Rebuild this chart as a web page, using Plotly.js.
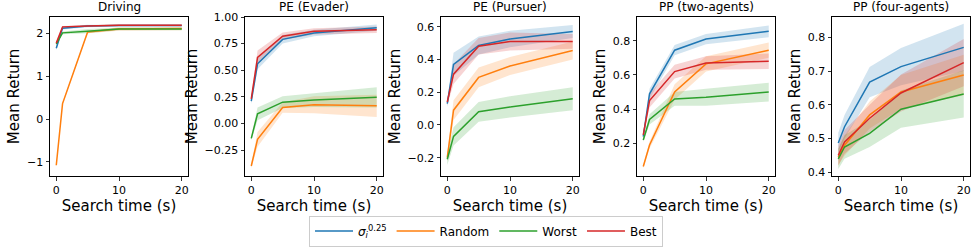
<!DOCTYPE html>
<html><head><meta charset="utf-8">
<script src="https://cdn.plot.ly/plotly-3.0.1.min.js"></script>
<style>html,body{margin:0;padding:0;background:#fff}#chart{width:972px;height:252px}</style>
</head><body><div id="chart"></div>
<script>
const searchTime = [0, 1, 5, 10, 20];
const seriesNames = ['<i>σ</i><sub><i>i</i></sub><sup>0.25</sup>', 'Random', 'Worst', 'Best'];
const panelTitles = ['Driving', 'PE (Evader)', 'PE (Pursuer)', 'PP (two-agents)', 'PP (four-agents)'];

// Driving
const drivingBlue = [1.65, 2.12, 2.17, 2.18, 2.18];
const drivingBlueErr = [0.04, 0.03, 0.03, 0.02, 0.02];
const drivingOrange = [-1.08, 0.36, 2.03, 2.10, 2.11];
const drivingOrangeErr = [0.02, 0.03, 0.03, 0.04, 0.04];
const drivingGreen = [1.75, 2.01, 2.05, 2.10, 2.10];
const drivingGreenErr = [0.03, 0.03, 0.05, 0.03, 0.03];
const drivingRed = [1.77, 2.15, 2.17, 2.19, 2.19];
const drivingRedErr = [0.03, 0.02, 0.02, 0.02, 0.02];

// PE (Evader)
const evaderBlue = [0.21, 0.56, 0.79, 0.85, 0.90];
const evaderBlueErr = [0.03, 0.05, 0.04, 0.03, 0.03];
const evaderOrange = [-0.40, -0.15, 0.15, 0.175, 0.165];
const evaderOrangeErr = [0.02, 0.07, 0.05, 0.08, 0.105];
const evaderGreen = [-0.14, 0.09, 0.20, 0.22, 0.245];
const evaderGreenErr = [0.02, 0.06, 0.055, 0.065, 0.095];
const evaderRed = [0.23, 0.62, 0.82, 0.865, 0.88];
const evaderRedErr = [0.03, 0.065, 0.035, 0.03, 0.03];

// PE (Pursuer)
const pursuerBlue = [0.13, 0.37, 0.485, 0.525, 0.57];
const pursuerBlueErr = [0.02, 0.07, 0.055, 0.05, 0.04];
const pursuerOrange = [-0.20, 0.09, 0.29, 0.36, 0.455];
const pursuerOrangeErr = [0.025, 0.06, 0.06, 0.055, 0.055];
const pursuerGreen = [-0.21, -0.07, 0.08, 0.11, 0.16];
const pursuerGreenErr = [0.035, 0.055, 0.06, 0.065, 0.07];
const pursuerRed = [0.14, 0.31, 0.48, 0.51, 0.51];
const pursuerRedErr = [0.02, 0.06, 0.05, 0.055, 0.045];

// PP (two-agents)
const twoBlue = [0.24, 0.49, 0.745, 0.81, 0.855];
const twoBlueErr = [0.02, 0.03, 0.03, 0.03, 0.035];
const twoOrange = [0.065, 0.19, 0.50, 0.665, 0.745];
const twoOrangeErr = [0.01, 0.02, 0.045, 0.045, 0.045];
const twoGreen = [0.22, 0.34, 0.46, 0.47, 0.50];
const twoGreenErr = [0.01, 0.03, 0.04, 0.05, 0.055];
const twoRed = [0.25, 0.45, 0.62, 0.67, 0.68];
const twoRedErr = [0.015, 0.04, 0.04, 0.04, 0.045];

// PP (four-agents)
const fourBlue = [0.487, 0.535, 0.667, 0.713, 0.77];
const fourBlueErr = [0.03, 0.035, 0.045, 0.055, 0.07];
const fourOrange = [0.445, 0.48, 0.57, 0.638, 0.688];
const fourOrangeErr = [0.025, 0.03, 0.04, 0.05, 0.06];
const fourGreen = [0.44, 0.475, 0.515, 0.587, 0.632];
const fourGreenErr = [0.03, 0.035, 0.04, 0.055, 0.07];
const fourRed = [0.45, 0.49, 0.56, 0.635, 0.725];
const fourRedErr = [0.03, 0.035, 0.04, 0.055, 0.07];

const panels = [
  [[drivingBlue, drivingBlueErr], [drivingOrange, drivingOrangeErr], [drivingGreen, drivingGreenErr], [drivingRed, drivingRedErr]],
  [[evaderBlue, evaderBlueErr], [evaderOrange, evaderOrangeErr], [evaderGreen, evaderGreenErr], [evaderRed, evaderRedErr]],
  [[pursuerBlue, pursuerBlueErr], [pursuerOrange, pursuerOrangeErr], [pursuerGreen, pursuerGreenErr], [pursuerRed, pursuerRedErr]],
  [[twoBlue, twoBlueErr], [twoOrange, twoOrangeErr], [twoGreen, twoGreenErr], [twoRed, twoRedErr]],
  [[fourBlue, fourBlueErr], [fourOrange, fourOrangeErr], [fourGreen, fourGreenErr], [fourRed, fourRedErr]]
];

const colors = ['#1f77b4', '#ff7f0e', '#2ca02c', '#d62728'];
const fills = ['rgba(31,119,180,0.2)', 'rgba(255,127,14,0.2)', 'rgba(44,160,44,0.2)', 'rgba(214,39,40,0.2)'];
const yRanges = [[-1.33, 2.38], [-0.494, 1.0], [-0.312, 0.659], [0.009, 0.939], [0.389, 0.86]];
const yDticks = [1, 0.25, 0.2, 0.2, 0.1];
const yFormats = ['d', '.2f', '.1f', '.1f', '.1f'];
const xLefts = [50, 245, 441, 637, 832];
const plotW = 138;
const W = 972, H = 252;
const yTop = 17, yBot = 176;

const traces = [];
const layout = {
  width: W, height: H,
  margin: {l: 0, r: 0, t: 0, b: 0},
  paper_bgcolor: '#fff', plot_bgcolor: '#fff',
  font: {family: 'DejaVu Sans', size: 11, color: '#000'},
  showlegend: true,
  legend: {
    orientation: 'h', x: 486 / W, xanchor: 'center', y: 1 - 231 / H, yanchor: 'middle',
    bordercolor: '#cccccc', borderwidth: 1, font: {size: 12},
    traceorder: 'normal', itemwidth: 38
  },
  annotations: []
};

panels.forEach((panel, p) => {
  const xa = p === 0 ? 'x' : 'x' + (p + 1);
  const ya = p === 0 ? 'y' : 'y' + (p + 1);
  panel.forEach((s, k) => {
    const mean = s[0], err = s[1];
    const upper = mean.map((v, i) => v + err[i]);
    const lower = mean.map((v, i) => v - err[i]);
    traces.push({
      x: searchTime.concat(searchTime.slice().reverse()),
      y: upper.concat(lower.slice().reverse()),
      xaxis: xa, yaxis: ya, type: 'scatter', mode: 'lines',
      fill: 'toself', fillcolor: fills[k], line: {width: 0, color: fills[k]},
      hoverinfo: 'skip', showlegend: false
    });
  });
  panel.forEach((s, k) => {
    traces.push({
      x: searchTime, y: s[0], xaxis: xa, yaxis: ya, type: 'scatter', mode: 'lines',
      line: {color: colors[k], width: 1.5}, name: seriesNames[k],
      showlegend: p === 0, legendgroup: 's' + k
    });
  });
  const xKey = p === 0 ? 'xaxis' : 'xaxis' + (p + 1);
  const yKey = p === 0 ? 'yaxis' : 'yaxis' + (p + 1);
  const axCommon = {
    showline: true, mirror: true, linecolor: '#000', linewidth: 1,
    ticks: 'outside', ticklen: 3.5, tickwidth: 0.8, tickcolor: '#000',
    showgrid: false, zeroline: false, automargin: false,
    tickfont: {size: 11, color: '#000'}
  };
  layout[xKey] = Object.assign({}, axCommon, {
    domain: [xLefts[p] / W, (xLefts[p] + plotW) / W],
    range: [-1, 21], tickvals: [0, 10, 20], anchor: ya,
    title: {text: 'Search time (s)', font: {size: 15}, standoff: 0}
  });
  layout[yKey] = Object.assign({}, axCommon, {
    domain: [1 - yBot / H, 1 - yTop / H],
    range: yRanges[p], dtick: yDticks[p], tick0: 0, tickformat: yFormats[p], anchor: xa,
    title: {text: 'Mean Return', font: {size: 15}, standoff: 3}
  });
  layout.annotations.push({
    text: panelTitles[p], xref: 'paper', yref: 'paper',
    x: (xLefts[p] + plotW / 2) / W, y: 1 - yTop / H, yshift: 1,
    xanchor: 'center', yanchor: 'bottom', showarrow: false,
    font: {size: 12, color: '#000'}
  });
});

Plotly.newPlot('chart', traces, layout, {staticPlot: true, displayModeBar: false});
</script>
</body></html>
